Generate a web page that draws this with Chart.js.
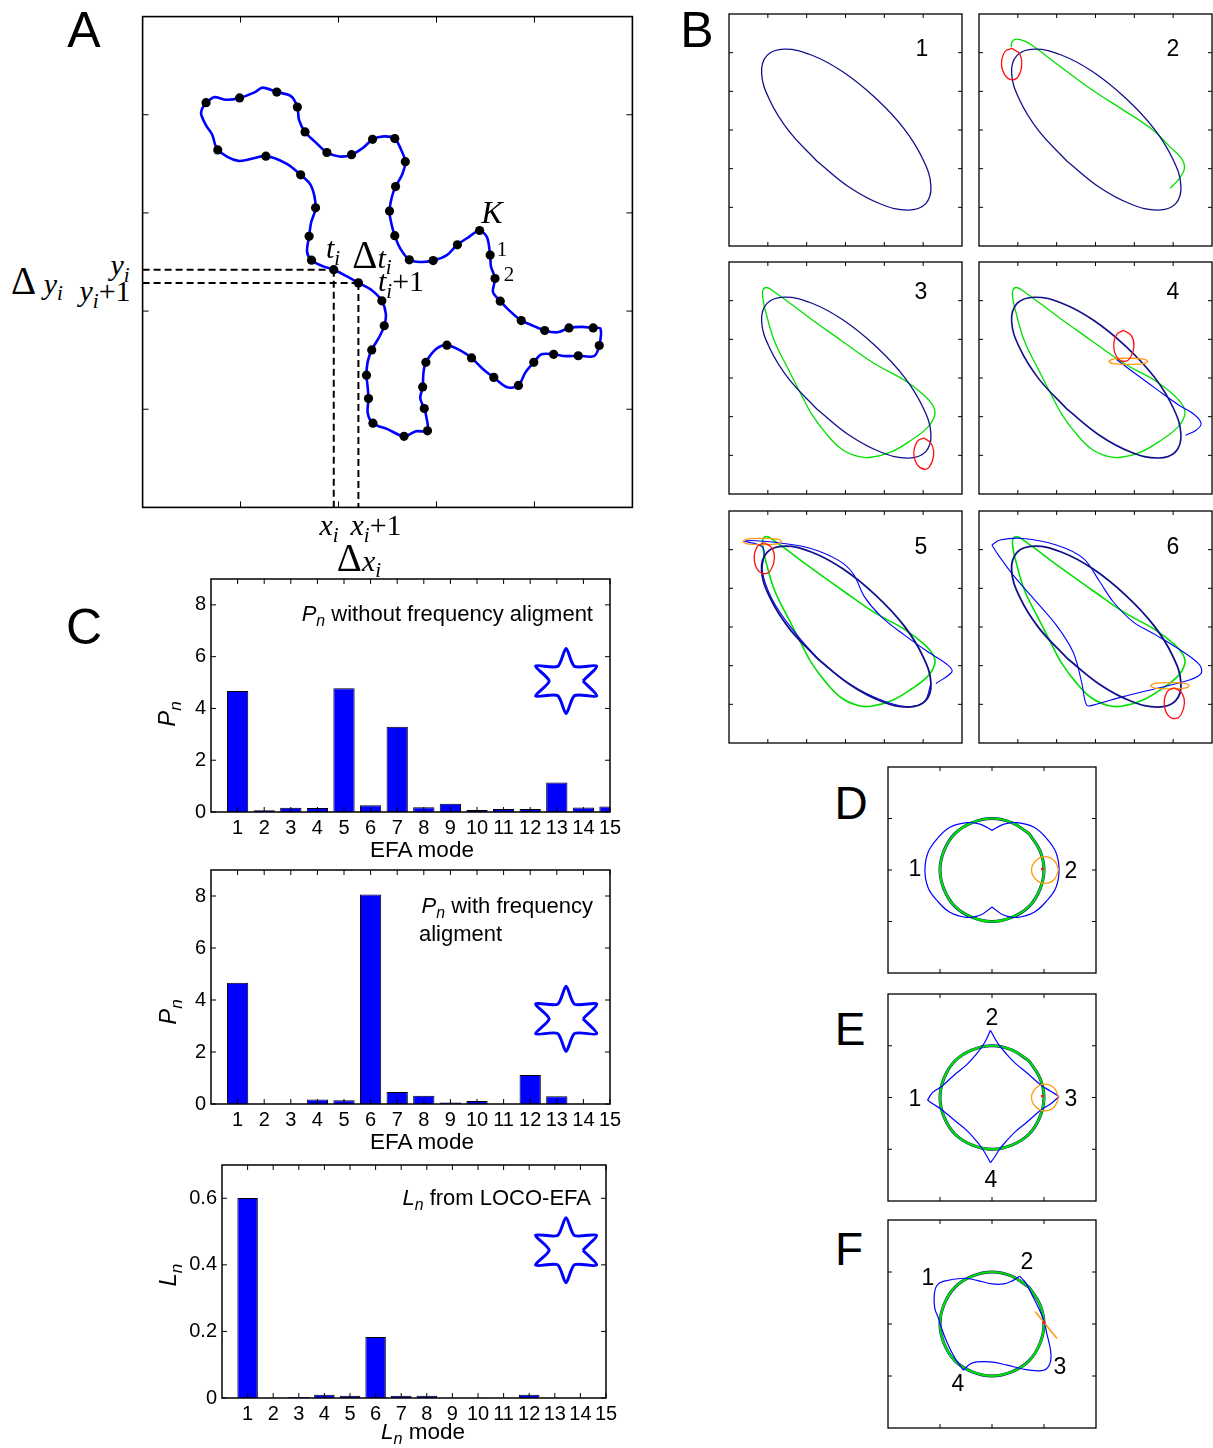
<!DOCTYPE html>
<html><head><meta charset="utf-8">
<script src="https://cdn.jsdelivr.net/npm/chart.js@4.4.1/dist/chart.umd.min.js"></script>
<style>
html,body{margin:0;padding:0;background:#fff;overflow:hidden;width:1213px;height:1448px;position:relative;}
.lbl{position:absolute;white-space:nowrap;line-height:1;color:#000;font-family:"Liberation Sans",Arial,Helvetica,sans-serif;}
.lbl sub{font-size:0.72em;vertical-align:-0.32em;line-height:0;}
.m{font-family:"Liberation Serif","DejaVu Serif",serif;}
.m sub{font-style:italic;font-size:0.7em;}
</style></head><body>
<script>
// ---------------- DATA ----------------
// Panel C: EFA / LOCO-EFA spectra
const MODES = [1,2,3,4,5,6,7,8,9,10,11,12,13,14,15];
const PN_NO_ALIGN = [4.67,0.07,0.16,0.15,4.78,0.26,3.29,0.18,0.32,0.08,0.12,0.12,1.14,0.17,0.21];
const PN_ALIGN    = [4.66,0,0,0.17,0.14,8.06,0.46,0.32,0.06,0.12,0,1.12,0.30,0,0];
const LN_LOCO     = [0.601,0.001,0.003,0.010,0.007,0.183,0.007,0.007,0.001,0.001,0.001,0.010,0.001,0.001,0.001];
const PN_TICKS = [0,2,4,6,8];
const LN_TICKS = [0,0.2,0.4,0.6];
// six-pointed star inset (icon units)
const STAR = [[0.52,0],[0.94,-0.46],[0.26,-0.45],[0,-1],[-0.26,-0.45],[-0.94,-0.46],[-0.52,0],[-0.94,0.46],[-0.26,0.45],[0,1],[0.26,0.45],[0.94,0.46],[0.52,0]];

// Panel A: contour and sample points (image units)
const A_CONTOUR = [[500,273],[490,290],[488,305],[500,335],[515,360],[529,402],[580,432],[648,419],[700,440],[734,470],[760,500],[771,560],[760,600],[755,638],[750,680],[761,703],[790,720],[816,729],[850,748],[877,765],[910,785],[935,814],[945,850],[941,882],[930,910],[910,948],[900,980],[897,1017],[900,1050],[902,1081],[900,1120],[913,1148],[950,1165],[990,1184],[1020,1170],[1048,1169],[1045,1130],[1040,1108],[1030,1080],[1036,1049],[1038,1010],[1044,982],[1070,945],[1096,935],[1130,950],[1157,970],[1185,1000],[1212,1023],[1245,1050],[1273,1045],[1290,1010],[1311,982],[1330,960],[1360,960],[1390,965],[1421,964],[1460,965],[1473,936],[1476,890],[1458,888],[1430,885],[1398,888],[1370,900],[1338,895],[1305,880],[1280,868],[1250,840],[1228,815],[1210,790],[1215,753],[1205,720],[1203,689],[1195,640],[1177,622],[1150,640],[1122,661],[1095,690],[1062,704],[1030,708],[1003,702],[980,670],[967,636],[958,600],[954,569],[960,530],[969,502],[985,470],[993,434],[980,395],[967,371],[940,365],[912,373],[890,395],[860,415],[830,420],[799,409],[770,380],[745,353],[730,320],[726,285],[710,255],[675,244],[640,232],[620,245],[583,260],[550,265],[520,258],[500,273]];
const A_DOTS = [[500,273],[583,260],[675,244],[726,285],[745,353],[799,409],[860,415],[912,373],[967,371],[993,434],[969,502],[954,569],[967,636],[1003,702],[1062,704],[1122,661],[1177,622],[1203,689],[1215,753],[1228,815],[1280,868],[1338,895],[1398,888],[1458,888],[1473,936],[1421,964],[1360,960],[1311,982],[1273,1045],[1212,1023],[1157,970],[1096,935],[1044,982],[1036,1049],[1040,1108],[1048,1169],[990,1184],[913,1148],[902,1081],[897,1017],[910,948],[941,882],[935,814],[877,765],[816,729],[761,703],[755,638],[771,560],[734,470],[648,419],[529,402]];
const A_DASH_YI  = [[343,729],[816,729]];
const A_DASH_YI1 = [[343,765],[877,765]];
const A_DASH_XI  = [[816,729],[816,1378]];
const A_DASH_XI1 = [[877,765],[877,1378]];
const A_TICKS_X = [585.4,827.8,1070.2,1312.6];
const A_TICKS_Y = [306,574,842,1110];

// Panel B: successive EFA mode reconstructions (tick units, y downward)
const B_NAVY = [[2.26,3.80],[1.53,3.01],[1.04,2.21],[0.84,1.53],[0.98,1.07],[1.43,0.91],[2.12,1.06],[2.94,1.50],[3.78,2.18],[4.51,2.97],[5.00,3.77],[5.20,4.45],[5.06,4.91],[4.61,5.07],[3.92,4.92],[3.10,4.48],[2.26,3.80]];
const B2_GREEN = [[0.83,0.86],[0.85,0.72],[0.97,0.65],[1.22,0.72],[1.48,0.89],[1.99,1.28],[2.85,1.92],[3.71,2.48],[4.48,3.00],[4.91,3.43],[5.21,3.73],[5.29,3.99],[5.16,4.25],[4.92,4.51]];
const B_GREEN = [[2.89,2.03],[3.75,2.63],[4.52,3.06],[5.03,3.45],[5.25,3.71],[5.30,3.95],[5.12,4.27],[4.69,4.61],[4.18,4.91],[3.66,5.05],[3.32,5.03],[2.89,4.83],[2.47,4.40],[2.12,3.92],[1.87,3.45],[1.52,2.76],[1.18,2.07],[0.97,1.38],[0.86,0.80],[0.95,0.66],[1.18,0.78],[2.04,1.42],[2.89,2.03]];
const B2_RED = [[0.84,0.89],[1.04,1.02],[1.10,1.32],[1.01,1.62],[0.85,1.70],[0.67,1.58],[0.58,1.28],[0.67,0.97],[0.84,0.89]];
const B3_RED = [[5.02,4.55],[5.21,4.70],[5.27,5.00],[5.16,5.30],[5.03,5.36],[4.86,5.26],[4.76,4.96],[4.85,4.64],[5.02,4.55]];
const B4_RED = [[3.73,1.77],[3.92,1.90],[3.99,2.17],[3.90,2.47],[3.75,2.57],[3.56,2.47],[3.47,2.17],[3.55,1.87],[3.73,1.77]];
const B5_RED = [[0.91,0.82],[1.10,0.95],[1.17,1.22],[1.08,1.52],[0.93,1.62],[0.74,1.52],[0.65,1.22],[0.73,0.92],[0.91,0.82]];
const B6_RED = [[5.03,4.57],[5.22,4.70],[5.29,4.97],[5.20,5.27],[5.05,5.37],[4.86,5.27],[4.77,4.97],[4.85,4.67],[5.03,4.57]];
const B4_ORANGE = [[3.34,2.57],[3.45,2.51],[3.84,2.49],[4.23,2.51],[4.34,2.57],[4.23,2.63],[3.84,2.65],[3.45,2.63],[3.34,2.57]];
const B5_ORANGE = [[0.35,0.79],[0.46,0.73],[0.85,0.71],[1.24,0.73],[1.35,0.79],[1.24,0.85],[0.85,0.87],[0.46,0.85],[0.35,0.79]];
const B6_ORANGE = [[4.41,4.52],[4.52,4.46],[4.91,4.44],[5.30,4.46],[5.41,4.52],[5.30,4.58],[4.91,4.60],[4.52,4.58],[4.41,4.52]];
const B4_BLUE = [[3.54,2.52],[3.96,2.84],[4.56,3.28],[5.16,3.71],[5.55,3.95],[5.72,4.18],[5.59,4.35],[5.32,4.48]];
const B5_BLUE = [[5.33,4.46],[5.74,4.16],[5.63,3.98],[5.12,3.64],[4.52,3.21],[3.92,2.73],[3.49,2.22],[3.19,1.61],[2.81,1.27],[2.04,0.95],[1.18,0.81],[0.41,0.78],[0.88,0.95],[0.86,1.57],[1.10,2.26],[1.61,3.03],[2.38,3.90],[3.15,4.50],[3.92,4.89],[4.56,5.06],[5.03,4.93],[5.19,4.50]];
const B6_BLUE = [[0.33,0.88],[0.54,0.75],[1.14,0.71],[1.99,0.88],[2.68,1.22],[3.11,1.83],[3.45,2.34],[3.96,2.86],[4.56,3.21],[5.25,3.64],[5.68,3.98],[5.72,4.20],[5.42,4.37],[4.56,4.59],[3.71,4.80],[2.94,5.02],[2.77,5.02],[2.64,4.41],[2.42,3.64],[1.99,2.95],[1.40,2.26],[0.88,1.66],[0.50,1.14],[0.33,0.88]];
const B_TICKS = [1,2,3,4,5];

// Panels D-F: LOCO-EFA examples (tick units, y downward)
const CIRCLE = [[2.71,1.29],[2.38,1.08],[2,1],[1.62,1.08],[1.29,1.29],[1.08,1.62],[1,2],[1.08,2.38],[1.29,2.71],[1.62,2.92],[2,3],[2.38,2.92],[2.71,2.71],[2.92,2.38],[3,2],[2.92,1.62],[2.71,1.29]];
const D_BLUE_R = [[2.00,1.23],[2.23,1.11],[2.48,1.08],[2.81,1.17],[3.06,1.40],[3.23,1.66],[3.29,2.00],[3.23,2.34],[3.06,2.59],[2.81,2.82],[2.48,2.92],[2.23,2.88],[2.00,2.72]];
const D_BLUE_L = [[2.00,2.72],[1.77,2.88],[1.52,2.92],[1.19,2.82],[0.94,2.59],[0.77,2.34],[0.71,2.00],[0.77,1.66],[0.94,1.40],[1.19,1.17],[1.52,1.08],[1.77,1.11],[2.00,1.23]];
const ORANGE_RING = [[3.28,2],[3.20,1.82],[3.02,1.74],[2.84,1.82],[2.76,2],[2.84,2.18],[3.02,2.26],[3.20,2.18],[3.28,2]];
const D_RED = [[2.97,1.98]];
const E_BLUE_1 = [[1.97,0.70],[2.05,0.85],[2.13,0.98],[2.26,1.14],[2.45,1.34],[2.68,1.53],[2.94,1.76],[3.13,1.88],[3.29,1.98]];
const E_BLUE_2 = [[3.29,1.98],[3.13,2.12],[2.94,2.24],[2.68,2.47],[2.45,2.66],[2.26,2.86],[2.13,3.02],[2.05,3.15],[1.97,3.26]];
const E_BLUE_3 = [[1.97,3.26],[1.90,3.13],[1.82,3.00],[1.70,2.84],[1.52,2.64],[1.29,2.45],[1.04,2.24],[0.86,2.12],[0.76,2.05]];
const E_BLUE_4 = [[0.76,2.05],[0.86,1.90],[1.04,1.78],[1.29,1.55],[1.52,1.36],[1.70,1.16],[1.82,1.00],[1.90,0.86],[1.97,0.70]];
const E_RED = [[2.97,1.97]];
const F_BLUE_A = [[1.45,2.89],[1.29,2.66],[1.13,2.34],[1.03,2.08],[0.97,1.89],[0.90,1.70],[0.89,1.44],[0.94,1.26],[1.06,1.18],[1.45,1.12],[1.71,1.16],[2.00,1.23],[2.23,1.23],[2.39,1.17],[2.53,1.08]];
const F_BLUE_B = [[2.53,1.08],[2.65,1.21],[2.77,1.44],[2.90,1.70],[3.00,1.95],[3.06,2.21],[3.12,2.47],[3.13,2.70],[3.05,2.86],[2.90,2.90],[2.61,2.87],[2.29,2.79],[1.97,2.73],[1.71,2.73],[1.58,2.77],[1.45,2.89]];
const F_ORANGE = [[2.83,1.76],[3.25,2.28]];
const F_RED = [[3.00,1.97]];
const DF_TICKS = [1,2,3];

// ---------------- RENDERING ----------------
const FONT = '"Liberation Sans", Arial, Helvetica, sans-serif';
Chart.defaults.font.family = FONT;
Chart.defaults.color = '#000';

const NAVY = '#10108a', GREEN = '#00e000', RED = '#ff1010', ORANGE = '#ff9a10', BLUE = '#0000ff';

const boxTicks = {
  id: 'boxTicks',
  afterDatasetsDraw(chart, args, o) {
    const {ctx, chartArea: a} = chart;
    const xs = chart.scales.x, ys = chart.scales.y;
    const L = o.len || 5;
    ctx.save();
    ctx.strokeStyle = '#000';
    ctx.lineWidth = o.tickW || 1;
    ctx.beginPath();
    (o.xt || []).forEach(v => { const p = xs.getPixelForValue(v); ctx.moveTo(p, a.bottom); ctx.lineTo(p, a.bottom - L); ctx.moveTo(p, a.top); ctx.lineTo(p, a.top + L); });
    (o.yt || []).forEach(v => { const p = ys.getPixelForValue(v); ctx.moveTo(a.left, p); ctx.lineTo(a.left + L, p); ctx.moveTo(a.right, p); ctx.lineTo(a.right - L, p); });
    ctx.stroke();
    ctx.lineWidth = o.boxW || 1.5;
    ctx.strokeRect(a.left, a.top, a.right - a.left, a.bottom - a.top);
    ctx.restore();
  }
};

function pane(left, top, w, h, cfg) {
  const c = document.createElement('canvas');
  c.width = w; c.height = h;
  c.style.cssText = 'position:absolute;left:' + left + 'px;top:' + top + 'px;width:' + w + 'px;height:' + h + 'px';
  document.body.appendChild(c);
  return new Chart(c, cfg);
}
const pts = a => a.map(p => ({x: p[0], y: p[1]}));
function curve(arr, color, w, tension, dash) {
  return {data: pts(arr), showLine: true, borderColor: color, backgroundColor: color, borderWidth: w,
    pointRadius: 0, pointHoverRadius: 0, tension: tension === undefined ? 0.4 : tension, borderDash: dash || [],
    fill: false, borderJoinStyle: 'round', borderCapStyle: 'butt'};
}
function dots(arr, color, r) {
  return {data: pts(arr), showLine: false, pointRadius: r, pointHoverRadius: r, backgroundColor: color, borderColor: color, borderWidth: 0};
}
function shapePanel(box, xr, yr, xt, yt, datasets, len, boxW) {
  const pad = 2;
  return pane(box[0] - pad, box[1] - pad, box[2] + 2 * pad, box[3] + 2 * pad, {
    type: 'scatter',
    data: {datasets},
    options: {
      responsive: false, animation: false, events: [],
      layout: {padding: pad},
      scales: {
        x: {type: 'linear', display: false, min: xr[0], max: xr[1]},
        y: {type: 'linear', display: false, min: yr[0], max: yr[1], reverse: true}
      },
      plugins: {legend: {display: false}, tooltip: {enabled: false}, boxTicks: {xt, yt, len, boxW}}
    },
    plugins: [boxTicks]
  });
}

// ----- Panel A -----
shapePanel([140, 14, 495, 496], [343, 1555], [38, 1378], A_TICKS_X, A_TICKS_Y, [
  dots(A_DOTS, '#000', 4.6),
  curve(A_CONTOUR, BLUE, 2.6, 0.3),
  curve(A_DASH_YI, '#000', 2, 0, [7, 4]),
  curve(A_DASH_YI1, '#000', 2, 0, [7, 4]),
  curve(A_DASH_XI, '#000', 2, 0, [7, 4]),
  curve(A_DASH_XI1, '#000', 2, 0, [7, 4])
], 6, 1.6);

// ----- Panel B -----
const BW = 233, BH = 232;
const bBoxes = [[729, 14], [979, 14], [729, 262], [979, 262], [729, 511], [979, 511]];
const bSets = [
  [curve(B_NAVY, NAVY, 1.3)],
  [curve(B2_RED, RED, 1.3), curve(B_NAVY, NAVY, 1.3), curve(B2_GREEN, GREEN, 1.3)],
  [curve(B3_RED, RED, 1.3), curve(B_NAVY, NAVY, 1.3), curve(B_GREEN, GREEN, 1.3)],
  [curve(B4_RED, RED, 1.3), curve(B4_ORANGE, ORANGE, 1.3), curve(B_NAVY, NAVY, 1.6), curve(B4_BLUE, BLUE, 1.1), curve(B_GREEN, GREEN, 1.3)],
  [curve(B5_RED, RED, 1.3), curve(B5_ORANGE, ORANGE, 1.3), curve(B_NAVY, NAVY, 1.8), curve(B5_BLUE, BLUE, 1.1, 0.35), curve(B_GREEN, GREEN, 1.6)],
  [curve(B6_RED, RED, 1.3), curve(B6_ORANGE, ORANGE, 1.3), curve(B_NAVY, NAVY, 1.8), curve(B6_BLUE, BLUE, 1.1, 0.35), curve(B_GREEN, GREEN, 1.6)]
];
bBoxes.forEach((b, i) => shapePanel([b[0], b[1], BW, BH], [0, 6], [0, 6], B_TICKS, B_TICKS, bSets[i], 4, 1.3));

// ----- Panels D, E, F -----
const circleSets = () => [curve(CIRCLE, GREEN, 2.2), curve(CIRCLE, NAVY, 3.0)];
shapePanel([888, 767, 208, 206], [0, 4], [0, 4], DF_TICKS, DF_TICKS, [
  dots(D_RED, RED, 1.5), curve(ORANGE_RING, ORANGE, 1.3), curve(D_BLUE_R, BLUE, 1.2), curve(D_BLUE_L, BLUE, 1.2), ...circleSets()
], 4, 1.3);
shapePanel([888, 994, 208, 207], [0, 4], [0, 4], DF_TICKS, DF_TICKS, [
  dots(E_RED, RED, 1.5), curve(ORANGE_RING, ORANGE, 1.3), curve(E_BLUE_1, BLUE, 1.2), curve(E_BLUE_2, BLUE, 1.2), curve(E_BLUE_3, BLUE, 1.2), curve(E_BLUE_4, BLUE, 1.2), ...circleSets()
], 4, 1.3);
shapePanel([888, 1220, 208, 208], [0, 4], [0, 4], DF_TICKS, DF_TICKS, [
  dots(F_RED, RED, 1.5), curve(F_ORANGE, ORANGE, 1.6, 0), curve(F_BLUE_A, BLUE, 1.2), curve(F_BLUE_B, BLUE, 1.2), ...circleSets()
], 4, 1.3);

// ----- Panel C bar charts -----
function barPanel(pos, pad, yW, xH, values, ymax, ystep, yticks, fmt, starX, starY) {
  return pane(pos[0], pos[1], pos[2], pos[3], {
    type: 'bar',
    data: {datasets: [
      {type: 'line', data: pts(STAR), xAxisID: 'xs', yAxisID: 'ys', borderColor: BLUE, borderWidth: 3, pointRadius: 0,
       tension: 0.25, fill: false, borderJoinStyle: 'round'},
      {data: MODES.map((m, i) => ({x: m, y: values[i]})), backgroundColor: BLUE, borderColor: '#000', borderWidth: 1,
       barPercentage: 0.8, categoryPercentage: 1.0, grouped: false}
    ]},
    options: {
      responsive: false, animation: false, events: [],
      layout: {padding: pad},
      scales: {
        x: {type: 'linear', min: 0, max: 15, offset: false,
            ticks: {stepSize: 1, autoSkip: false, maxRotation: 0, minRotation: 0, padding: 4, font: {size: 20},
                    callback: v => (v === 0 ? '' : String(v))},
            grid: {display: false, drawTicks: false, offset: false}, border: {display: false},
            afterFit: s => { s.height = xH; s.paddingLeft = 0; s.paddingRight = 0; }},
        y: {type: 'linear', min: 0, max: ymax,
            ticks: {stepSize: ystep, includeBounds: false, padding: 5, font: {size: 20}, callback: fmt},
            grid: {display: false, drawTicks: false}, border: {display: false},
            afterFit: s => { s.width = yW; s.paddingTop = 0; s.paddingBottom = 0; }},
        xs: {type: 'linear', axis: 'x', display: false, offset: false, min: starX[0], max: starX[1], grid: {offset: false}},
        ys: {type: 'linear', axis: 'y', display: false, offset: false, min: starY[0], max: starY[1]}
      },
      plugins: {legend: {display: false}, tooltip: {enabled: false},
        boxTicks: {xt: MODES, yt: yticks, len: 5, boxW: 1.5}}
    },
    plugins: [boxTicks]
  });
}
const intFmt = v => String(v);
const decFmt = v => (v === 0 ? '0' : v.toFixed(1));
barPanel([150, 575, 480, 270], {top: 4, right: 20, left: 0, bottom: 0}, 61, 33, PN_NO_ALIGN, 9, 2, PN_TICKS, intFmt, [-10.92, 1.35], [-4.03, 3.14]);
barPanel([150, 866, 480, 270], {top: 4, right: 20, left: 0, bottom: 0}, 61, 32, PN_ALIGN, 9, 2, PN_TICKS, intFmt, [-10.92, 1.35], [-2.62, 4.58]);
barPanel([150, 1161, 480, 270], {top: 4, right: 24, left: 0, bottom: 0}, 72, 33, LN_LOCO, 0.7, 0.2, LN_TICKS, decFmt, [-10.58, 1.23], [-4.55, 2.62]);

// ---------------- TEXT ----------------
function label(html, x, y, size, cls, anchor, rot) {
  const d = document.createElement('div');
  d.className = 'lbl ' + (cls || '');
  d.innerHTML = html;
  d.style.left = x + 'px'; d.style.top = y + 'px'; d.style.fontSize = size + 'px';
  const tx = anchor === 'r' ? '-100%' : anchor === 'l' ? '0' : '-50%';
  d.style.transform = 'translate(' + tx + ',-50%)' + (rot ? ' rotate(' + rot + 'deg)' : '');
  document.body.appendChild(d);
}
// panel letters
label('A', 84, 30, 50); label('B', 697, 30, 50); label('C', 84, 627, 50);
label('D', 851, 803, 46); label('E', 850, 1029, 46); label('F', 849, 1249, 46);
// panel B numbers
[['1', 922, 48], ['2', 1173, 48], ['3', 921, 291], ['4', 1173, 291], ['5', 921, 546], ['6', 1173, 546]]
  .forEach(t => label(t[0], t[1], t[2], 23));
// D, E, F numbers
[['1', 915, 868], ['2', 1071, 870], ['1', 915, 1098], ['2', 992, 1017], ['3', 1071, 1098], ['4', 991, 1179],
 ['1', 928, 1277], ['2', 1027, 1261], ['3', 1060, 1366], ['4', 958, 1383]].forEach(t => label(t[0], t[1], t[2], 23));
// panel A math annotations
label('<i>K</i>', 492, 212, 32, 'm');
label('1', 502, 249, 21, 'm'); label('2', 509, 274, 21, 'm');
label('<i>t</i><sub>i</sub>', 333, 248, 30, 'm');
label('<span style="font-size:1.3em">&Delta;</span><i>t</i><sub>i</sub>', 372, 254, 30, 'm');
label('<i>t</i><sub>i</sub>+1', 401, 281, 30, 'm');
label('<i>y</i><sub>i</sub>', 120, 265, 30, 'm');
label('<i>y</i><sub>i</sub>+1', 105, 291, 30, 'm');
label('<span style="font-size:1.3em">&Delta;</span> <i>y</i><sub>i</sub>', 37, 280, 30, 'm');
label('<i>x</i><sub>i</sub>', 329, 525, 30, 'm');
label('<i>x</i><sub>i</sub>+1', 376, 525, 30, 'm');
label('<span style="font-size:1.3em">&Delta;</span><i>x</i><sub>i</sub>', 359, 557, 30, 'm');
// panel C texts
label('<i>P<sub>n</sub></i>', 167, 714, 24, '', 'c', -90);
label('<i>P<sub>n</sub></i>', 168, 1012, 24, '', 'c', -90);
label('<i>L<sub>n</sub></i>', 168, 1275, 24, '', 'c', -90);
label('EFA mode', 422, 850, 22.5);
label('EFA mode', 422, 1142, 22.5);
label('<i>L<sub>n</sub></i> mode', 423, 1432, 22.5);
label('<i>P<sub>n</sub></i> without frequency aligment', 593, 614, 22, '', 'r');
label('<i>P<sub>n</sub></i> with frequency', 593, 906, 22, '', 'r');
label('aligment', 419, 934, 22, '', 'l');
label('<i>L<sub>n</sub></i> from LOCO-EFA', 591, 1198, 22, '', 'r');
</script>
</body></html>
